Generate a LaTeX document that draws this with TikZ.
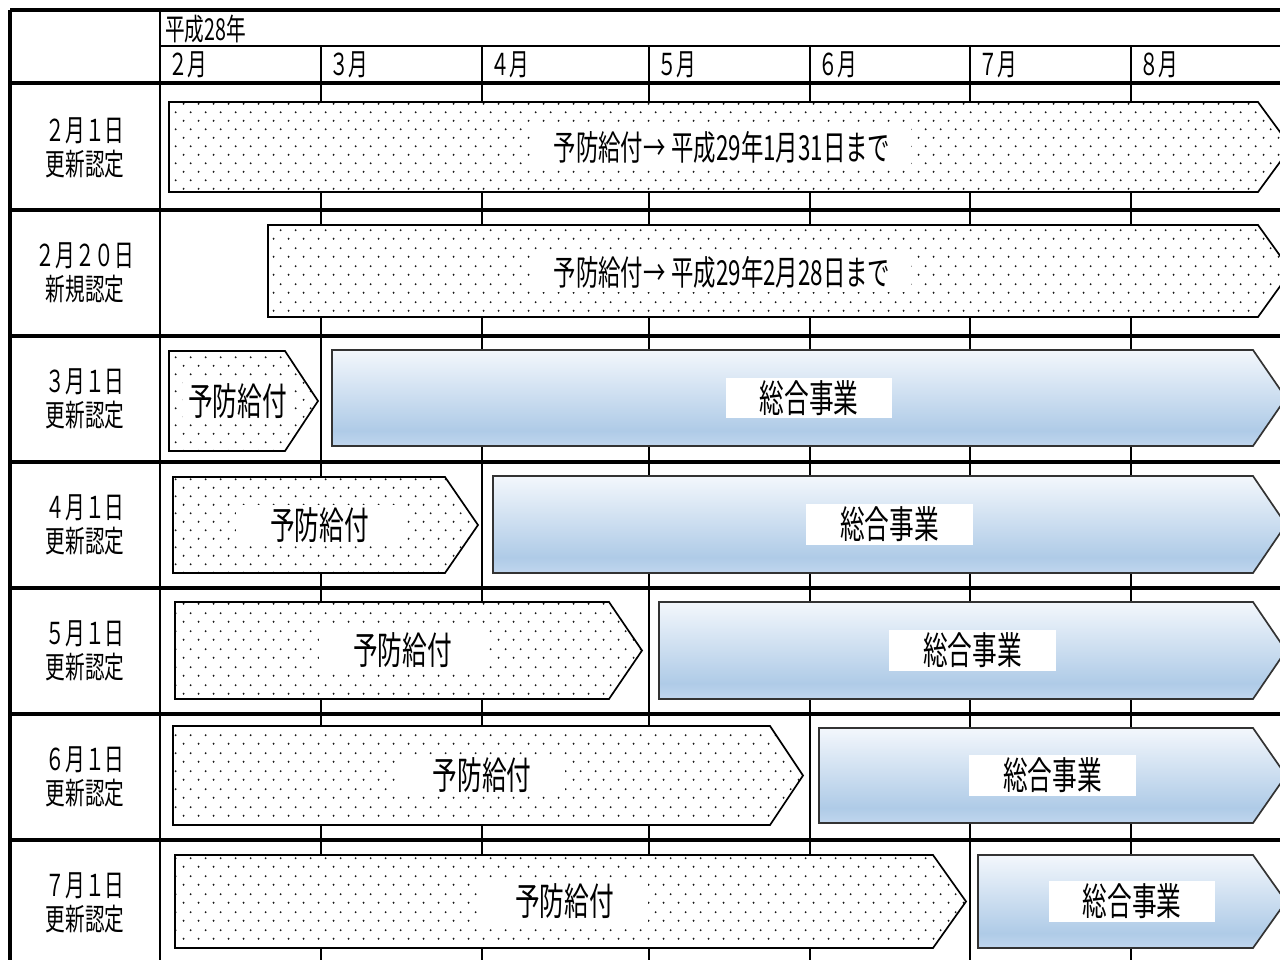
\documentclass[tikz,border=0pt]{standalone}
\usepackage{fontspec}
\usetikzlibrary{patterns.meta}
\newfontfamily\jp[FakeStretch=0.65]{Noto Sans CJK JP}
\definecolor{sogotop}{HTML}{F3F7FC}
\definecolor{sogomid}{HTML}{AFCBE7}
\definecolor{sogobot}{HTML}{C0D6EE}
\pgfdeclareverticalshading{sogo}{100bp}{color(0bp)=(sogobot); color(25bp)=(sogobot); color(33bp)=(sogomid); color(75bp)=(sogotop); color(100bp)=(sogotop)}
\tikzdeclarepattern{
  name=hodots, type=uncolored,
  bounding box={(0pt,0pt) and (10.7pt,12.4pt)},
  tile size={(10.7pt,12.4pt)},
  code={
    \fill (2.7pt,3.1pt) circle (0.8pt);
    \fill (8.05pt,9.3pt) circle (0.8pt);
  }
}
\tikzset{
  yobo/.style={draw=black, line width=1.2pt, preaction={fill=white}, pattern=hodots, pattern color=black!90},
  sogo/.style={draw=black!80, line width=1.2pt, shade, shading=sogo},
  lbl/.style={font=\jp\fontsize{21.5}{24}\selectfont, align=center},
  hdr/.style={font=\jp\fontsize{21.5}{24}\selectfont, anchor=west, inner sep=0pt},
  longtxt/.style={font=\jp\fontsize{24.5}{26}\selectfont, fill=white, inner xsep=15pt, inner ysep=3pt},
  txtbox/.style={font=\jp\fontsize{27}{30}\selectfont, fill=white, inner xsep=24pt, inner ysep=2pt}
}
% style, left, flat end, top, bottom
\newcommand\chevron[5]{\draw[#1] (#2,#4) -- (#3,#4) -- ({#3+33},{(#4+#5)/2}) -- (#3,#5) -- (#2,#5) -- cycle;}

\begin{document}
\begin{tikzpicture}[x=0.025cm, y=-0.025cm]
  \useasboundingbox (0,0) rectangle (1280,960);
  \clip (0,0) rectangle (1280,960);
  \fill[white] (0,0) rectangle (1280,960);

  \foreach \x in {321,482,649,810,970,1131}
    \draw[line width=1.4pt] (\x,46) -- (\x,960);
  \foreach \y in {210,336,462,588,714,840}
    \draw[line width=2.6pt] (10,\y) -- (1280,\y);
  \draw[line width=2.8pt] (10,10) -- (1280,10);
  \draw[line width=2pt] (160,46) -- (1280,46);
  \draw[line width=3.5pt] (10,83) -- (1280,83);
  \draw[line width=2.8pt] (10,10) -- (10,960);
  \draw[line width=2pt] (160,10) -- (160,960);

  \node[hdr] (year) at (165,29) {平成28年};
  \foreach \x/\m [count=\i] in {160/２,321/３,482/４,649/５,810/６,970/７,1131/８}
    \node[hdr] (mon\i) at (\x+8,65) {\m 月};

  \foreach \y/\t [count=\i] in {148/{２月１日\\更新認定}, 273/{２月２０日\\新規認定},
      399/{３月１日\\更新認定}, 525/{４月１日\\更新認定}, 651/{５月１日\\更新認定},
      777/{６月１日\\更新認定}, 903/{７月１日\\更新認定}}
    \node[lbl] (row\i) at (85,\y) {\t};

  \chevron{yobo}{169}{1258}{102}{192}
  \node[longtxt] (kikan1) at (722,147) {予防給付→\,平成29年1月31日まで};
  \chevron{yobo}{268}{1258}{225}{317}
  \node[longtxt] (kikan2) at (722,272) {予防給付→\,平成29年2月28日まで};

  \foreach \a/\b/\t/\u/\c/\s/\v/\p [count=\i from 3] in
      {169/285/351/451/332/350/446/4, 173/445/477/573/493/476/573/24,
       175/609/602/699/659/602/699/24, 173/770/726/825/819/728/823/24,
       175/933/855/948/978/855/948/24} {
    \chevron{yobo}{\a}{\b}{\t}{\u}
    \chevron{sogo}{\c}{1253}{\s}{\v}
    \node[txtbox, inner xsep=\p pt] (yobo\i) at ({(\a+\b+33)/2-6},{(\t+\u)/2}) {予防給付};
    \node[txtbox] (sogo\i) at ({(\c+1286)/2},{(\s+\v)/2}) {総合事業};
  }
\end{tikzpicture}
\end{document}
